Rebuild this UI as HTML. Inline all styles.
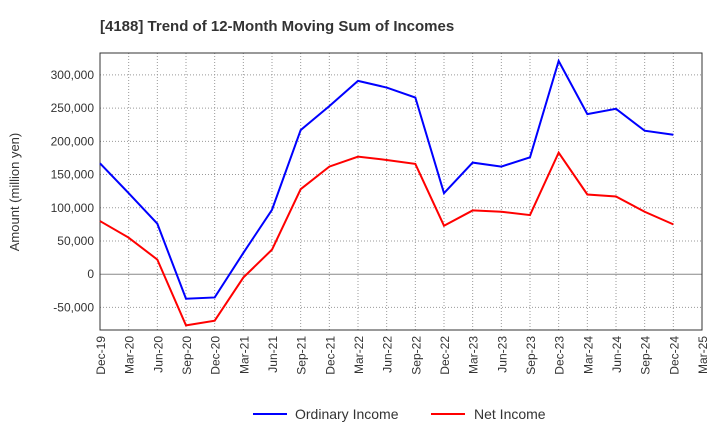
<!DOCTYPE html>
<html><head><meta charset="utf-8"><style>
body{margin:0;background:#fff;font-family:"Liberation Sans",sans-serif}
svg text{font-family:"Liberation Sans",sans-serif;fill:#333}
</style></head><body>
<svg id="chart" width="720" height="440" xmlns="http://www.w3.org/2000/svg">
<text x="100" y="31" font-size="15" font-weight="bold">[4188]  Trend of 12-Month Moving Sum of Incomes</text>
<g id="grid"></g>
<g id="axes"></g>
<g id="series"></g>
<text transform="translate(19,192) rotate(-90)" text-anchor="middle" font-size="13">Amount (million yen)</text>
<g>
<line x1="253" y1="414" x2="287" y2="414" stroke="#0000ff" stroke-width="2"/>
<text x="295" y="419" font-size="14">Ordinary Income</text>
<line x1="431" y1="414" x2="465" y2="414" stroke="#ff0000" stroke-width="2"/>
<text x="474" y="419" font-size="14">Net Income</text>
</g>
</svg>
<script>
const categories=["Dec-19","Mar-20","Jun-20","Sep-20","Dec-20","Mar-21","Jun-21","Sep-21","Dec-21","Mar-22","Jun-22","Sep-22","Dec-22","Mar-23","Jun-23","Sep-23","Dec-23","Mar-24","Jun-24","Sep-24","Dec-24","Mar-25"];
const ordinaryIncome=[167000,122000,76000,-37000,-35000,32000,97000,217000,253000,291000,281000,266000,122000,168000,162000,176000,321000,241000,249000,216000,210000];
const netIncome=[80000,55000,22000,-77000,-70000,-5000,37000,128000,162000,177000,172000,166000,73000,96000,94000,89000,183000,120000,117000,94000,75000];
const yTicks=[-50000,0,50000,100000,150000,200000,250000,300000];
const L=100,R=702,T=53,B=330,yMin=-84000,yMax=333000;
const ns="http://www.w3.org/2000/svg";
const x=i=>L+(R-L)*i/(categories.length-1);
const y=v=>B-(v-yMin)/(yMax-yMin)*(B-T);
function mk(tag,attrs,parent){const e=document.createElementNS(ns,tag);for(const k in attrs)e.setAttribute(k,attrs[k]);parent.appendChild(e);return e;}
const grid=document.getElementById('grid'),axes=document.getElementById('axes'),series=document.getElementById('series');
categories.forEach((c,i)=>{
 const g=mk('line',{x1:x(i),x2:x(i),y1:T,y2:B,stroke:'#999','stroke-dasharray':'1,2','stroke-width':1},grid);
 
 
 const t=mk('text',{transform:`translate(${x(i)+5},${B+6}) rotate(-90)`,'text-anchor':'end','font-size':12},axes);
 t.textContent=c;
 
 
});
yTicks.forEach(v=>{
 const g=mk('line',{x1:L,x2:R,y1:y(v),y2:y(v),stroke:v===0?'#888':'#999','stroke-dasharray':v===0?'none':'1,2','stroke-width':1},grid);
 
 
 const t=mk('text',{x:L-6,y:y(v)+4,'text-anchor':'end','font-size':12},axes);
 t.textContent=v.toLocaleString('en-US');
 
 
});
const frame=mk('rect',{x:L,y:T,width:R-L,height:B-T,fill:'none',stroke:'#333','stroke-width':1},axes);


function line(data,color,name){
 const p=mk('polyline',{points:data.map((v,i)=>x(i)+','+y(v)).join(' '),fill:'none',stroke:color,'stroke-width':2},series);
 
 
}
line(ordinaryIncome,'#0000ff','ordinary-income-line');
line(netIncome,'#ff0000','net-income-line');
</script>
</body></html>
